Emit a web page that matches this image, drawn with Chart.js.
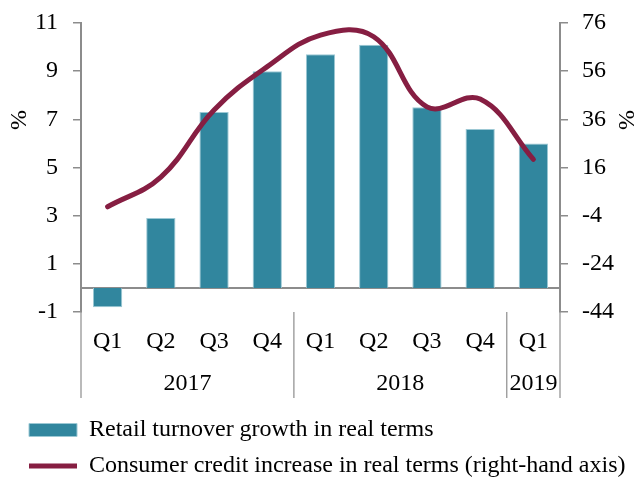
<!DOCTYPE html>
<html>
<head>
<meta charset="utf-8">
<script src="https://cdn.jsdelivr.net/npm/chart.js@4/dist/chart.umd.min.js"></script>
<style>
  html, body { margin: 0; padding: 0; background: #fff; }
  #wrap { width: 642px; height: 477px; }
</style>
</head>
<body>
<div id="wrap"><canvas id="retailChart"></canvas></div>
<script>
// quarters on the category axis, grouped by year underneath
const quarters = ["Q1", "Q2", "Q3", "Q4", "Q1", "Q2", "Q3", "Q4", "Q1"];
const years = ["2017", "2018", "2019"];
const quartersPerYear = [4, 4, 1];

// left axis, %
const retailTurnover = [-0.8, 2.9, 7.3, 9.0, 9.7, 10.1, 7.5, 6.6, 6.0];
// right axis, %
const consumerCredit = [-0.3, 12.0, 39.9, 57.9, 71.0, 70.3, 41.2, 44.4, 19.4];

const leftTicks = { min: -1, max: 11, step: 2 };
const rightTicks = { min: -44, max: 76, step: 20 };

const FONT = "'Liberation Serif', 'Times New Roman', serif";
const FONT_SIZE = 24;
const AXIS_GREY = "#8c8c8c";

// zero line, year row, group separators and the rotated "%" titles
const extrasPlugin = {
    id: "extras",
    beforeDatasetsDraw(chart) {
        const ctx = chart.ctx;
        const area = chart.chartArea;
        const y0 = chart.scales.y.getPixelForValue(0);
        ctx.save();
        ctx.strokeStyle = AXIS_GREY;
        ctx.lineWidth = 2;
        ctx.beginPath();
        ctx.moveTo(area.left, y0);
        ctx.lineTo(area.right, y0);
        ctx.stroke();
        ctx.restore();
    },
    afterDraw(chart) {
        const ctx = chart.ctx;
        const area = chart.chartArea;
        const x = chart.scales.x;
        const sepBottom = area.bottom + 86;

        ctx.save();
        ctx.strokeStyle = AXIS_GREY;
        ctx.lineWidth = 1.2;
        ctx.fillStyle = "#000";
        ctx.font = FONT_SIZE + "px " + FONT;
        ctx.textAlign = "center";
        ctx.textBaseline = "middle";

        let start = 0;
        const edges = [area.left];
        years.forEach((year, k) => {
            const end = start + quartersPerYear[k] - 1;
            const left = start === 0 ? area.left
                : (x.getPixelForValue(start - 1) + x.getPixelForValue(start)) / 2;
            const right = k === years.length - 1 ? area.right
                : (x.getPixelForValue(end) + x.getPixelForValue(end + 1)) / 2;
            edges.push(right);
            ctx.fillText(year, (left + right) / 2, area.bottom + 72);
            start = end + 1;
        });

        edges.forEach((ex) => {
            ctx.beginPath();
            ctx.moveTo(ex, area.bottom);
            ctx.lineTo(ex, sepBottom);
            ctx.stroke();
        });

        // axis titles
        [20, 628].forEach((tx) => {
            ctx.save();
            ctx.translate(tx, area.top + 97);
            ctx.rotate(-Math.PI / 2);
            ctx.fillText("%", 0, 0);
            ctx.restore();
        });
        ctx.restore();
    }
};

// fixed axis width; drop the extra top/bottom room Chart.js reserves for labels
function fixValueAxis(width) {
    return (scale) => {
        scale.width = width;
        scale.paddingTop = 10;
        scale.paddingBottom = 10;
    };
}

let ctx = document.getElementById("retailChart").getContext("2d");
let retailChart = new Chart(ctx, {
    type: "bar",
    data: {
        labels: quarters,
        datasets: [
            {
                label: "Retail turnover growth in real terms",
                data: retailTurnover,
                yAxisID: "y",
                backgroundColor: "#31869e",
                borderColor: "#9cc8d4",
                borderWidth: 1,
                pointStyle: "rect",
                categoryPercentage: 1,
                barPercentage: 0.55,
                order: 1
            },
            {
                type: "line",
                label: "Consumer credit increase in real terms (right-hand axis)",
                data: consumerCredit,
                yAxisID: "y1",
                borderColor: "#861e42",
                backgroundColor: "#861e42",
                borderWidth: 5,
                borderCapStyle: "round",
                tension: 0.4,
                pointRadius: 0,
                pointStyle: "line",
                fill: false,
                order: 0
            }
        ]
    },
    options: {
        responsive: true,
        maintainAspectRatio: false,
        animation: false,
        layout: {
            padding: { left: 17, right: 0, top: 23, bottom: -11 }
        },
        plugins: {
            tooltip: { enabled: false },
            legend: {
                position: "bottom",
                align: "start",
                labels: {
                    usePointStyle: true,
                    pointStyleWidth: 48,
                    boxHeight: 13,
                    padding: 12,
                    color: "#000",
                    font: { family: FONT, size: FONT_SIZE },
                    sort: (a, b) => a.datasetIndex - b.datasetIndex
                }
            }
        },
        scales: {
            x: {
                grid: { display: false, drawTicks: false },
                border: { display: false },
                ticks: {
                    color: "#000",
                    padding: 15,
                    maxRotation: 0,
                    autoSkip: false,
                    font: { family: FONT, size: FONT_SIZE }
                },
                afterFit: (scale) => { scale.height = 94; }
            },
            y: {
                position: "left",
                min: leftTicks.min,
                max: leftTicks.max,
                ticks: {
                    stepSize: leftTicks.step,
                    color: "#000",
                    padding: 15,
                    font: { family: FONT, size: FONT_SIZE }
                },
                grid: {
                    drawOnChartArea: false,
                    drawTicks: true,
                    tickLength: 8,
                    tickColor: AXIS_GREY,
                    lineWidth: 1.5
                },
                border: { color: AXIS_GREY, width: 2 },
                afterFit: fixValueAxis(64)
            },
            y1: {
                position: "right",
                min: rightTicks.min,
                max: rightTicks.max,
                ticks: {
                    stepSize: rightTicks.step,
                    color: "#000",
                    padding: 14,
                    font: { family: FONT, size: FONT_SIZE }
                },
                grid: {
                    drawOnChartArea: false,
                    drawTicks: true,
                    tickLength: 8,
                    tickColor: AXIS_GREY,
                    lineWidth: 1.5
                },
                border: { color: AXIS_GREY, width: 2 },
                afterFit: fixValueAxis(82)
            }
        }
    },
    plugins: [extrasPlugin]
});
</script>
</body>
</html>
